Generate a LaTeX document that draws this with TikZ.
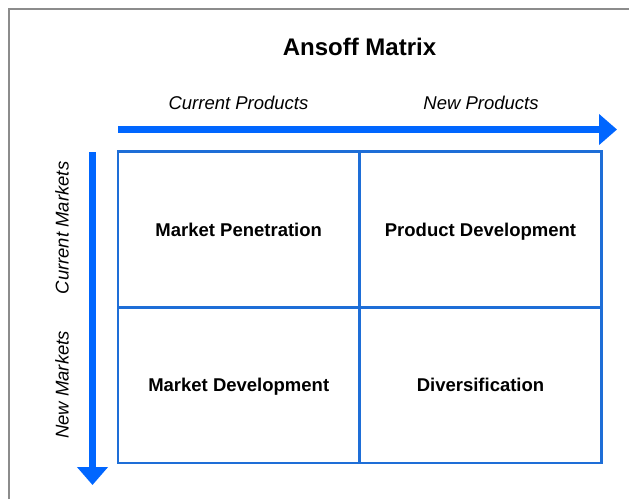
\documentclass[tikz,border=0pt]{standalone}
\usepackage{fontspec}
\setmainfont{Liberation Sans}
\usetikzlibrary{arrows.meta}
\definecolor{gridblue}{RGB}{30,110,215}
\definecolor{arrowblue}{RGB}{0,102,255}
\definecolor{frame}{RGB}{140,140,140}
\tikzset{
  cell/.style={draw=gridblue, line width=2.7pt, minimum width=241.75pt, minimum height=155.75pt,
    inner sep=0pt, outer sep=0pt, font=\fontsize{18.5}{22}\selectfont\bfseries, anchor=center,
    text height=13.2pt, text depth=0pt},
  axislabel/.style={font=\fontsize{18.5}{22}\selectfont\itshape, inner sep=0pt,
    text height=13.2pt, text depth=0pt},
  axis/.style={arrowblue, line width=6.5pt, -{Triangle[length=18pt, width=30pt]}}
}
\begin{document}
\begin{tikzpicture}[x=1pt, y=-1pt]
\useasboundingbox (0,0) rectangle (629,499);
\fill[white] (0,0) rectangle (629,499);
% frame
\coordinate (fbl) at (8.5,499);
\coordinate (ftl) at (8.5,8.5);
\coordinate (ftr) at (629,8.5);
\draw[frame, line width=2pt] (fbl) -- (ftl) -- (ftr);
% title
\node[font=\fontsize{24}{28}\selectfont\bfseries, inner sep=0pt, text height=17.2pt, text depth=0pt] (title) at (359.5,46.5) {Ansoff Matrix};
% axis labels
\node[axislabel] (cp) at (238.5,103) {Current Products};
\node[axislabel] (np) at (481,103) {New Products};
\node[axislabel, rotate=90] (cm) at (62,228) {Current Markets};
\node[axislabel, rotate=90] (nm) at (62,385) {New Markets};
% arrows
\coordinate (hs) at (118,129.5);
\coordinate (he) at (617,129.5);
\coordinate (vs) at (92.5,152);
\coordinate (ve) at (92.5,485);
\draw[axis] (hs) -- (he);
\draw[axis] (vs) -- (ve);
% cells
\node[cell] (mp) at (238.75,229.5) {Market Penetration};
\node[cell] (pd) at (480.5,229.5) {Product Development};
\node[cell] (md) at (238.75,385.25) {Market Development};
\node[cell] (dv) at (480.5,385.25) {Diversification};
\end{tikzpicture}
\end{document}
